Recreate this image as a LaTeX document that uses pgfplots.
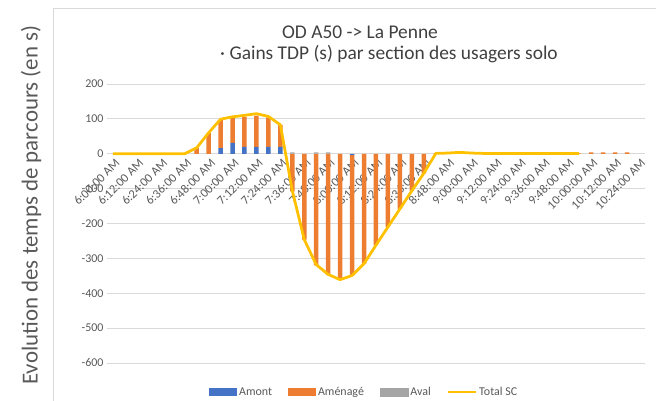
\documentclass[border=0pt]{standalone}
\usepackage{pgfplots}
\usepackage{pgfplotstable}
\pgfplotsset{compat=1.18}
\usepackage{fontspec}
\setmainfont{Carlito}
\definecolor{amont}{HTML}{4472C4}
\definecolor{amen}{HTML}{ED7D31}
\definecolor{aval}{HTML}{A5A5A5}
\definecolor{tot}{HTML}{FFC000}
\definecolor{txt}{HTML}{595959}
\definecolor{ttl}{HTML}{404040}
\definecolor{gridc}{HTML}{D9D9D9}

\pgfplotstableread{
i amont amen
0 0 0
1 0 0
2 0 0
3 0 2
4 0 0
5 0 2
6 0 0
7 0 17
8 0 59
9 16 81
10 31 72
11 20 86
12 20 89
13 20 84
14 20 63
15 0 -108
16 0 -246
17 0 -320
18 0 -348
19 0 -361
20 -4 -345
21 0 -315
22 0 -262
23 0 -210
24 0 -158
25 0 -106
26 0 -56
27 0 1
28 0 2
29 0 4
30 0 2
31 0 1
32 0 1
33 0 1
34 0 1
35 0 1
36 0 1
37 0 1
38 0 1
39 0 1
40 0 4
41 0 4
42 0 4
43 0 4
44 0 0
}\bardata

\pgfplotstableread{
i aval
15 4
17 4
18 4
}\avaldata

\pgfplotstableread{
i tot
0 0
1 0
2 0
3 0
4 0
5 0
6 0
7 17
8 60
9 99
10 106
11 110
12 115
13 107
14 83
15 -106
16 -246
17 -318
18 -346
19 -361
20 -349
21 -315
22 -262
23 -210
24 -158
25 -106
26 -56
27 1
28 2
29 4
30 2
31 1
32 1
33 1
34 1
35 1
36 1
37 1
38 1
39 1
}\totdata

\begin{document}
\begin{tikzpicture}
\useasboundingbox (-107bp,-38bp) rectangle (549bp,363bp);
\draw[gridc, line width=0.8bp] (-54bp,-60bp) -- (-54bp,355bp) -- (600bp,355bp);
\node[anchor=base, font=\fontsize{19.5}{19.5}\selectfont, text=ttl] at (253bp,324bp) {OD A50 -> La Penne};
\node[anchor=base, font=\fontsize{19.5}{19.5}\selectfont, text=ttl] at (282bp,303bp) {· Gains TDP (s) par section des usagers solo};
\begin{axis}[
  at={(0,0)}, anchor=south west,
  scale only axis, width=538bp, height=279bp,
  xmin=-0.5, xmax=44.5, ymin=-600, ymax=200,
  ytick={-600,-500,...,200},
  ymajorgrids, grid style={gridc, line width=0.8bp},
  axis x line=middle, axis y line=left,
  x axis line style={gridc, line width=0.8bp, -},
  y axis line style={draw=none},
  hide obscured x ticks=false, hide obscured y ticks=false,
  major tick length=0pt,
  xtick={0,2,...,44},
  xticklabels={6:00:00 AM,6:12:00 AM,6:24:00 AM,6:36:00 AM,6:48:00 AM,7:00:00 AM,7:12:00 AM,7:24:00 AM,7:36:00 AM,7:48:00 AM,8:00:00 AM,8:12:00 AM,8:24:00 AM,8:36:00 AM,8:48:00 AM,9:00:00 AM,9:12:00 AM,9:24:00 AM,9:36:00 AM,9:48:00 AM,10:00:00 AM,10:12:00 AM,10:24:00 AM},
  xticklabel style={rotate=45, anchor=north east, font=\fontsize{12.5}{12.5}\selectfont, text=txt, inner sep=2bp, yshift=-2bp},
  yticklabel style={font=\fontsize{12}{12}\selectfont, text=txt},
  /pgf/number format/assume math mode=true,
  ybar stacked, bar width=4.5bp,
  ylabel={Evolution des temps de parcours (en s)},
  ylabel style={at={(axis description cs:-0.141,0.566)}, anchor=center, font=\fontsize{23}{23}\selectfont, text=txt},
  legend style={at={(axis description cs:0.478,-0.104)}, anchor=center, draw=none, fill=none,
    font=\fontsize{12}{12}\selectfont, text=txt,
    /tikz/every even column/.append style={column sep=14bp}},
  legend columns=4,
  legend cell align=left,
]
\addplot[fill=amont, draw=none, legend image code/.code={\fill[amont] (0bp,-4bp) rectangle (28bp,4bp);}] table[x=i, y=amont] {\bardata};
\addlegendentry{Amont}
\addplot[fill=amen, draw=none, legend image code/.code={\fill[amen] (0bp,-4bp) rectangle (28bp,4bp);}] table[x=i, y=amen] {\bardata};
\addlegendentry{Aménagé}
\addlegendimage{legend image code/.code={\fill[aval] (0bp,-4bp) rectangle (28bp,4bp);}}
\addlegendentry{Aval}
\addlegendimage{legend image code/.code={\draw[tot, line width=2.5bp] (0bp,0bp) -- (28bp,0bp);}}
\addlegendentry{Total SC}
\end{axis}
\begin{axis}[
  at={(0,0)}, anchor=south west,
  scale only axis, width=538bp, height=279bp,
  xmin=-0.5, xmax=44.5, ymin=-600, ymax=200,
  hide axis,
]
\addplot[ybar, bar width=4.5bp, bar shift=0pt, fill=aval, draw=none] table[x=i, y=aval] {\avaldata};
\addplot[tot, line width=2.75bp, line join=round, mark=none] table[x=i, y=tot] {\totdata};
\end{axis}
\end{tikzpicture}
\end{document}
